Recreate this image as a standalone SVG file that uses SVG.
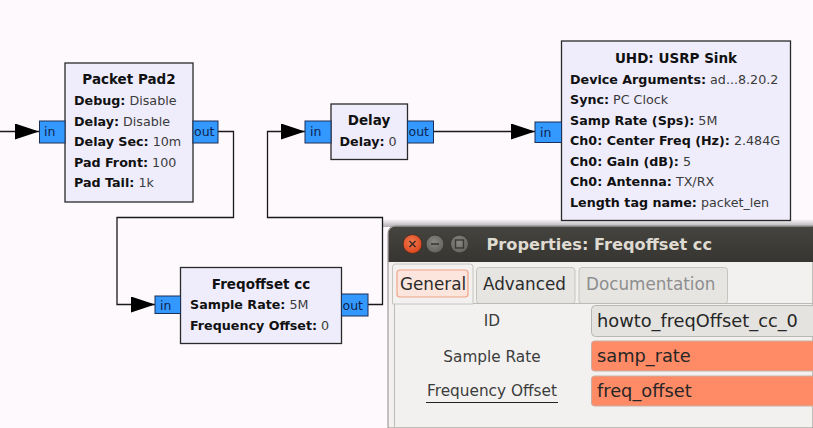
<svg xmlns="http://www.w3.org/2000/svg" width="813" height="428" viewBox="0 0 813 428">
<defs>
<style>
.blk{fill:#efedfc;stroke:#2a2a2a;stroke-width:1.3}
.port{fill:#3399ff;stroke:#1c2f55;stroke-width:1}
.pt{font-family:"DejaVu Sans",sans-serif;font-size:12.5px;fill:#0f2450}
.ttl{font-family:"DejaVu Sans",sans-serif;font-size:13.5px;font-weight:bold;fill:#111;text-anchor:middle}
.prm{font-family:"DejaVu Sans",sans-serif;font-size:12.7px;fill:#3a3a3a}
.prm tspan.k{font-weight:bold;fill:#111}
.wire{fill:none;stroke:#1a1a1a;stroke-width:1.3}
.tab{font-family:"DejaVu Sans",sans-serif;font-size:16.8px;fill:#2b2b2b}
.lbl{font-family:"DejaVu Sans",sans-serif;font-size:15.3px;fill:#3c3c3c;text-anchor:middle}
.ent{font-family:"DejaVu Sans",sans-serif;font-size:17.8px;fill:#262626}
</style>
<marker id="ah" markerUnits="userSpaceOnUse" viewBox="0 0 24 16" refX="24" refY="8" markerWidth="24" markerHeight="16" orient="auto">
<path d="M0,0 L24,8 L0,16 Z" fill="#000"/>
</marker>
<linearGradient id="tb" x1="0" y1="0" x2="0" y2="1">
<stop offset="0" stop-color="#45443f"/>
<stop offset="1" stop-color="#363531"/>
</linearGradient>
<linearGradient id="sh" x1="0" y1="0" x2="0" y2="1">
<stop offset="0" stop-color="#000" stop-opacity="0"/>
<stop offset="1" stop-color="#000" stop-opacity="0.3"/>
</linearGradient>
<radialGradient id="cl" cx="0.45" cy="0.4" r="0.6">
<stop offset="0" stop-color="#f47a52"/>
<stop offset="1" stop-color="#d9461c"/>
</radialGradient>
<radialGradient id="gb" cx="0.45" cy="0.4" r="0.6">
<stop offset="0" stop-color="#8a8883"/>
<stop offset="1" stop-color="#64625d"/>
</radialGradient>
</defs>
<rect width="813" height="428" fill="#fdf9fd"/>

<g id="connectors">
<path class="wire" d="M0,131.5 H39" marker-end="url(#ah)"/>
<path class="wire" d="M218,131.5 H233.5 V217.5 H117 V304.5 H155" marker-end="url(#ah)"/>
<path class="wire" d="M368,304.5 H382.5 V217.5 H267.5 V131.5 H305" marker-end="url(#ah)"/>
<path class="wire" d="M433,131.5 H535" marker-end="url(#ah)"/>
</g>

<g id="packet_pad2">
<rect class="blk" x="65" y="63" width="128" height="139"/>
<rect class="port" x="39.5" y="121" width="25.5" height="22"/>
<text class="pt" x="44" y="136">in</text>
<rect class="port" x="193" y="121" width="25" height="22"/>
<text class="pt" x="194" y="136">out</text>
<text class="ttl" x="129" y="84">Packet Pad2</text>
<text class="prm" x="74" y="105"><tspan class="k">Debug:</tspan> Disable</text>
<text class="prm" x="74" y="125.5"><tspan class="k">Delay:</tspan> Disable</text>
<text class="prm" x="74" y="146"><tspan class="k">Delay Sec:</tspan> 10m</text>
<text class="prm" x="74" y="166.5"><tspan class="k">Pad Front:</tspan> 100</text>
<text class="prm" x="74" y="187"><tspan class="k">Pad Tail:</tspan> 1k</text>
</g>

<g id="delay">
<rect class="blk" x="331" y="104" width="76.5" height="55.5"/>
<rect class="port" x="305" y="121" width="26" height="22"/>
<text class="pt" x="310" y="136">in</text>
<rect class="port" x="407.5" y="121" width="26" height="22"/>
<text class="pt" x="408.5" y="136">out</text>
<text class="ttl" x="369" y="125">Delay</text>
<text class="prm" x="339.5" y="145.5"><tspan class="k">Delay:</tspan> 0</text>
</g>

<g id="uhd_usrp_sink">
<rect class="blk" x="561.5" y="41" width="229" height="179.5"/>
<rect class="port" x="535" y="122" width="26.5" height="20.5"/>
<text class="pt" x="540" y="136.5">in</text>
<text class="ttl" x="676" y="63">UHD: USRP Sink</text>
<text class="prm" x="570" y="83.5"><tspan class="k">Device Arguments:</tspan> ad...8.20.2</text>
<text class="prm" x="570" y="104"><tspan class="k">Sync:</tspan> PC Clock</text>
<text class="prm" x="570" y="124.5"><tspan class="k">Samp Rate (Sps):</tspan> 5M</text>
<text class="prm" x="570" y="145"><tspan class="k">Ch0: Center Freq (Hz):</tspan> 2.484G</text>
<text class="prm" x="570" y="165.5"><tspan class="k">Ch0: Gain (dB):</tspan> 5</text>
<text class="prm" x="570" y="186"><tspan class="k">Ch0: Antenna:</tspan> TX/RX</text>
<text class="prm" x="570" y="206.5"><tspan class="k">Length tag name:</tspan> packet_len</text>
</g>

<g id="freqoffset_cc">
<rect class="blk" x="180.5" y="267.5" width="161" height="76"/>
<rect class="port" x="155" y="296" width="25.5" height="17.5"/>
<text class="pt" x="160" y="309.5">in</text>
<rect class="port" x="341.5" y="294" width="26.5" height="22"/>
<text class="pt" x="342.5" y="309.5">out</text>
<text class="ttl" x="261" y="288.5">Freqoffset cc</text>
<text class="prm" x="190" y="309"><tspan class="k">Sample Rate:</tspan> 5M</text>
<text class="prm" x="190" y="330"><tspan class="k">Frequency Offset:</tspan> 0</text>
</g>

<g id="properties_dialog">
<rect x="382" y="219" width="431" height="8" fill="url(#sh)"/>
<path d="M388,428 V234 Q388,226 396,226 H813 V428 Z" fill="#f2f1f0" stroke="#8d8b86" stroke-width="1"/>
<path d="M388.5,262 V234 Q388.5,226.5 396,226.5 H813 V262 Z" fill="url(#tb)"/>
<circle cx="412.5" cy="244" r="9.5" fill="url(#cl)" stroke="#3a2a22" stroke-width="0.8"/>
<path d="M409.5,241 L415.5,247 M415.5,241 L409.5,247" stroke="#3a2a22" stroke-width="1.5"/>
<circle cx="435" cy="244" r="9" fill="url(#gb)" stroke="#33322e" stroke-width="0.8"/>
<path d="M431,244 H439" stroke="#3a3935" stroke-width="1.6"/>
<circle cx="459.5" cy="244" r="9" fill="url(#gb)" stroke="#33322e" stroke-width="0.8"/>
<rect x="455.5" y="240" width="8" height="8" fill="none" stroke="#3a3935" stroke-width="1.4"/>
<text x="486.5" y="250" font-family="DejaVu Sans,sans-serif" font-size="16.2" font-weight="bold" fill="#dfdbd2">Properties: Freqoffset cc</text>

<rect x="476.5" y="267.5" width="98.5" height="36" rx="3" fill="#e6e5e2" stroke="#c6c4bf"/>
<text class="tab" x="483" y="290">Advanced</text>
<rect x="579" y="267.5" width="148.5" height="36" rx="3" fill="#e6e5e2" stroke="#c6c4bf"/>
<text class="tab" x="586" y="290" fill="#8c8c8c" style="fill:#8e8e8e">Documentation</text>
<path d="M394.5,428 V303.5 H813" fill="none" stroke="#bdbbb6" stroke-width="1"/>
<path d="M392.5,304 V267 Q392.5,264 395.5,264 H470 Q473,264 473,267 V304 Z" fill="#f2f1f0" stroke="#c6c4bf"/>
<rect x="397" y="270" width="71" height="27" rx="3" fill="#fbe5dc" stroke="#f2a487" stroke-width="1.2"/>
<text class="tab" x="400" y="290">General</text>

<text class="lbl" x="492" y="326">ID</text>
<text class="lbl" x="492" y="361.5">Sample Rate</text>
<text class="lbl" x="492" y="396">Frequency Offset</text>
<line x1="426" y1="402.5" x2="558" y2="402.5" stroke="#222" stroke-width="1.2"/>

<rect x="591.5" y="305.5" width="240" height="31" rx="4" fill="#e4e3e0" stroke="#b9b7b2"/>
<text class="ent" x="597" y="327">howto_freqOffset_cc_0</text>
<rect x="591.5" y="341" width="240" height="30" rx="3" fill="#ff8b66" stroke="#c9aea4"/>
<text class="ent" x="597" y="362">samp_rate</text>
<rect x="591.5" y="376" width="240" height="30" rx="3" fill="#ff8b66" stroke="#c9aea4"/>
<text class="ent" x="597" y="397">freq_offset</text>
</g>
</svg>
